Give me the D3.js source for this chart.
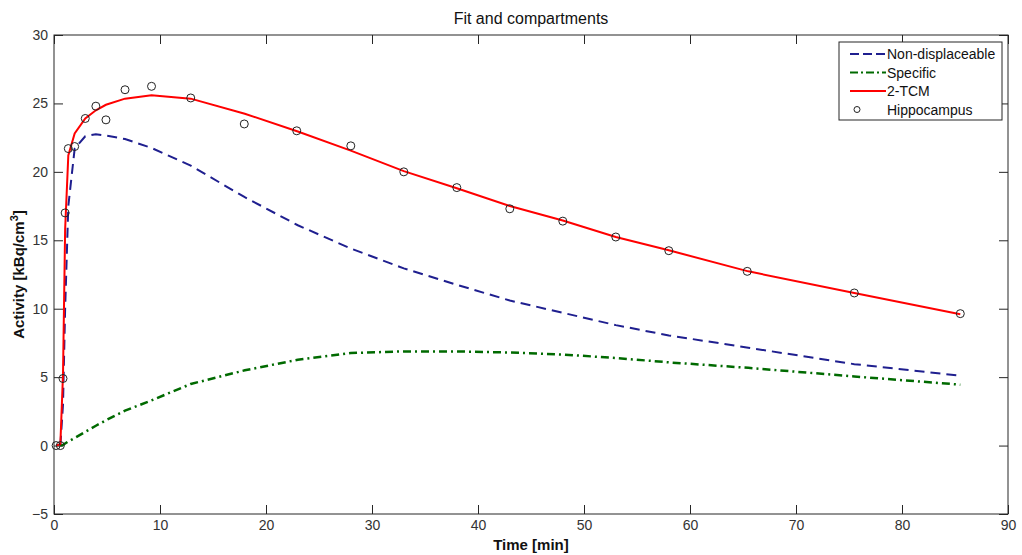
<!DOCTYPE html>
<html>
<head>
<meta charset="utf-8">
<script src="https://cdn.jsdelivr.net/npm/d3@7"></script>
<style>
body { margin: 0; background: #fff; }
svg { font-family: Arial, "Liberation Sans", sans-serif; }
</style>
</head>
<body>
<div id="chart"></div>
<script>

// Hippocampus measurements (frame mid times, min / kBq/cm3)
var pointTimes = [0.2, 0.6, 0.85, 1.05, 1.35, 1.95, 2.95, 3.95, 4.9, 6.7, 9.2, 12.9, 17.95, 22.9, 28, 33, 38, 43, 48, 53, 58, 65.4, 75.5, 85.5];
var pointValues = [0, 0, 4.9, 17.0, 21.7, 21.85, 23.9, 24.8, 23.8, 26.0, 26.25, 25.4, 23.5, 23.0, 21.9, 20.0, 18.85, 17.3, 16.4, 15.24, 14.24, 12.73, 11.15, 9.64];

// model curves evaluated at frame times
var fitTimes = [0.2, 0.6, 0.85, 1.05, 1.35, 1.95, 2.95, 3.95, 4.9, 6.7, 9.2, 12.9, 18, 23, 28, 33, 38, 43, 48, 53, 58, 65.5, 75.5, 85.5];
var tcmValues = [0, 0.1, 5.2, 15.8, 21.2, 22.8, 23.9, 24.5, 24.9, 25.35, 25.6, 25.35, 24.25, 22.95, 21.55, 20.05, 18.8, 17.5, 16.45, 15.24, 14.27, 12.73, 11.15, 9.6];
var nondispValues = [null, 0, 3.0, 10.0, 17.5, 21.7, 22.6, 22.75, 22.65, 22.4, 21.75, 20.45, 18.15, 16.1, 14.4, 12.95, 11.75, 10.6, 9.7, 8.8, 8.05, 7.15, 5.95, 5.1];
var specificValues = [null, 0, 0.05, 0.15, 0.3, 0.55, 1.0, 1.45, 1.85, 2.55, 3.3, 4.5, 5.5, 6.27, 6.76, 6.88, 6.88, 6.8, 6.65, 6.4, 6.08, 5.68, 5.05, 4.45];

var xTicks = [0, 10, 20, 30, 40, 50, 60, 70, 80, 90];
var yTicks = [-5, 0, 5, 10, 15, 20, 25, 30];

var legendNames = ["Non-displaceable", "Specific", "2-TCM", "Hippocampus"];

var width = 1022, height = 555;
var margin = {top: 35, right: 14, bottom: 41, left: 54};
var innerW = width - margin.left - margin.right;
var innerH = height - margin.top - margin.bottom;

var svg = d3.select("#chart").append("svg")
	.attr("width", width)
	.attr("height", height);

var x = d3.scaleLinear().domain([0, 90]).range([margin.left, margin.left + innerW]);
var y = d3.scaleLinear().domain([-5, 30]).range([margin.top + innerH, margin.top]);

var axisColor = "#262626";
var tickLen = 9;

// box
svg.append("rect")
	.attr("x", x(0)).attr("y", y(30))
	.attr("width", x(90) - x(0)).attr("height", y(-5) - y(30))
	.attr("fill", "none").attr("stroke", axisColor).attr("stroke-width", 1);

// axes, ticks pointing inward (also on top and right)
function styleAxis(g) {
	g.select(".domain").remove();
	g.selectAll(".tick line").attr("stroke", axisColor);
	g.selectAll(".tick text").attr("fill", "#333").style("font-size", "14px").style("font-family", "Arial, 'Liberation Sans', sans-serif");
}

svg.append("g")
	.attr("transform", "translate(0," + y(-5) + ")")
	.call(d3.axisBottom(x).tickValues(xTicks).tickSizeInner(-tickLen).tickSizeOuter(0).tickPadding(6))
	.call(styleAxis);

svg.append("g")
	.attr("transform", "translate(0," + y(30) + ")")
	.call(d3.axisTop(x).tickValues(xTicks).tickSizeInner(-tickLen).tickSizeOuter(0).tickFormat(""))
	.call(styleAxis);

svg.append("g")
	.attr("transform", "translate(" + x(0) + ",0)")
	.call(d3.axisLeft(y).tickValues(yTicks).tickSizeInner(-tickLen).tickSizeOuter(0).tickPadding(6))
	.call(styleAxis);

svg.append("g")
	.attr("transform", "translate(" + x(90) + ",0)")
	.call(d3.axisRight(y).tickValues(yTicks).tickSizeInner(-tickLen).tickSizeOuter(0).tickFormat(""))
	.call(styleAxis);

// curves
function makeLine(values) {
	return d3.line()
		.defined(function(d, i) { return values[i] !== null; })
		.x(function(d, i) { return x(fitTimes[i]); })
		.y(function(d, i) { return y(values[i]); })(fitTimes);
}

var blue = "#1f1f8f", green = "#006a00", red = "#ff0000";

svg.append("path")
	.attr("d", makeLine(nondispValues))
	.attr("fill", "none").attr("stroke", blue).attr("stroke-width", 2)
	.attr("stroke-dasharray", "10,6");

svg.append("path")
	.attr("d", makeLine(specificValues))
	.attr("fill", "none").attr("stroke", green).attr("stroke-width", 2.5)
	.attr("stroke-dasharray", "8,4,2,4");

svg.append("path")
	.attr("d", makeLine(tcmValues))
	.attr("fill", "none").attr("stroke", red).attr("stroke-width", 2);

svg.selectAll("circle.obs")
	.data(pointTimes)
	.enter().append("circle")
	.attr("class", "obs")
	.attr("cx", function(d) { return x(d); })
	.attr("cy", function(d, i) { return y(pointValues[i]); })
	.attr("r", 4)
	.attr("fill", "none").attr("stroke", "#222").attr("stroke-width", 1);

// titles
svg.append("text")
	.attr("x", (x(0) + x(90)) / 2).attr("y", 24)
	.attr("text-anchor", "middle")
	.style("font-size", "16px").attr("fill", "#111")
	.text("Fit and compartments");

svg.append("text")
	.attr("x", (x(0) + x(90)) / 2).attr("y", 550)
	.attr("text-anchor", "middle")
	.style("font-size", "15px").style("font-weight", "bold").attr("fill", "#111")
	.text("Time [min]");

var ylab = svg.append("text")
	.attr("transform", "translate(24," + (y(-5) + y(30)) / 2 + ") rotate(-90)")
	.attr("text-anchor", "middle")
	.style("font-size", "15px").style("font-weight", "bold").attr("fill", "#111");
ylab.append("tspan").text("Activity [kBq/cm");
ylab.append("tspan").attr("dy", -6).style("font-size", "11px").text("3");
ylab.append("tspan").attr("dy", 6).text("]");

// legend
var legend = svg.append("g").attr("transform", "translate(839,42)");
legend.append("rect")
	.attr("width", 163).attr("height", 78)
	.attr("fill", "#fff").attr("stroke", axisColor).attr("stroke-width", 1);

var legendStyles = [
	{color: blue, dash: "9,4", w: 2},
	{color: green, dash: "8,3,2,3", w: 2},
	{color: red, dash: null, w: 2},
	{color: null}
];

var rows = legend.selectAll("g.row")
	.data(legendNames)
	.enter().append("g")
	.attr("class", "row")
	.attr("transform", function(d, i) { return "translate(0," + (12 + i * 18.5) + ")"; });

rows.each(function(d, i) {
	var g = d3.select(this);
	var s = legendStyles[i];
	if (s.color) {
		g.append("line")
			.attr("x1", 11).attr("x2", 47).attr("y1", 0).attr("y2", 0)
			.attr("stroke", s.color).attr("stroke-width", s.w)
			.attr("stroke-dasharray", s.dash);
	} else {
		g.append("circle").attr("cx", 18).attr("cy", 0).attr("r", 3)
			.attr("fill", "none").attr("stroke", "#222");
	}
	g.append("text")
		.attr("x", 48).attr("y", 5)
		.style("font-size", "14px").attr("fill", "#111")
		.text(d);
});

</script>
</body>
</html>
